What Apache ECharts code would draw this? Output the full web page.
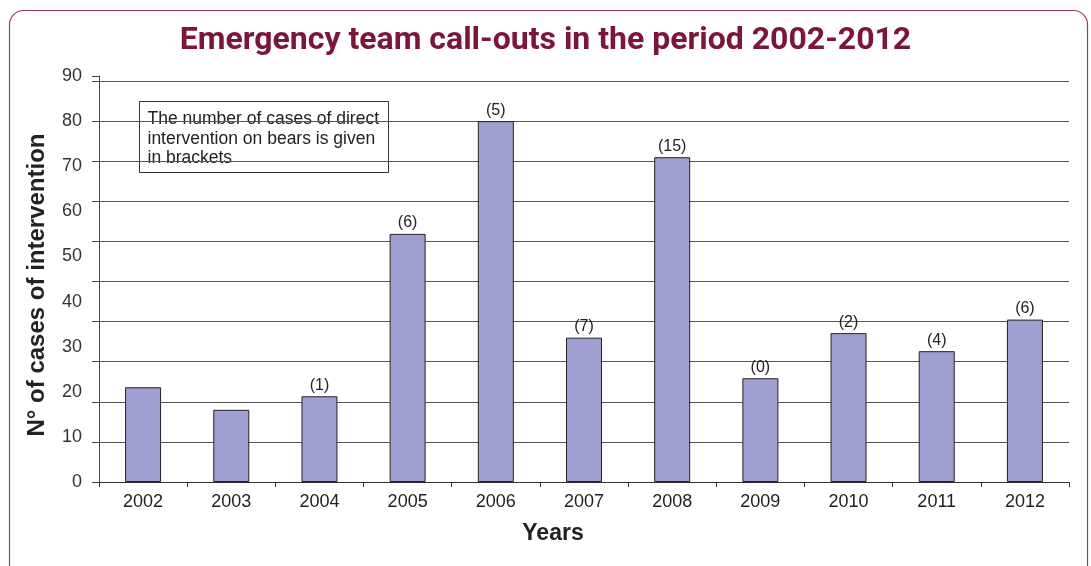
<!DOCTYPE html>
<html>
<head>
<meta charset="utf-8">
<script src="https://cdn.jsdelivr.net/npm/echarts@6/dist/echarts.min.js"></script>
<style>
  html, body { margin: 0; padding: 0; background: #fff; }
  #chart { width: 1091px; height: 566px; }
</style>
</head>
<body>
<div id="chart"></div>
<script>
// years on the x axis
var years = ["2002", "2003", "2004", "2005", "2006", "2007", "2008", "2009", "2010", "2011", "2012"];
// n° of cases of intervention
var callOuts = [21, 16, 19, 55, 80, 32, 72, 23, 33, 29, 36];
// direct interventions on bears (shown in brackets)
var bearCases = ["", "", "(1)", "(6)", "(5)", "(7)", "(15)", "(0)", "(2)", "(4)", "(6)"];

var chart = echarts.init(document.getElementById("chart"));

var option = {
  backgroundColor: "#fff",
  animation: false,
  title: {
    text: "Emergency team call-outs in the period 2002-2012",
    left: "center",
    top: 20,
    textStyle: {
      fontFamily: "Roboto",
      fontWeight: "bold",
      fontSize: 32,
      color: "#7d1538"
    }
  },
  grid: {
    left: 99,
    right: 22,
    top: 76,
    bottom: 84
  },
  xAxis: {
    type: "category",
    data: years,
    name: "Years",
    nameLocation: "middle",
    nameGap: 40,
    nameTextStyle: {
      fontFamily: "Liberation Sans",
      fontWeight: "bold",
      fontSize: 23,
      color: "#222",
      padding: [0, 62, 0, 0]
    },
    axisLine: { lineStyle: { color: "#333", width: 1 } },
    axisTick: { show: true, length: 5, lineStyle: { color: "#333" } },
    axisLabel: {
      margin: 11,
      fontFamily: "Liberation Sans",
      fontSize: 18,
      color: "#222"
    }
  },
  yAxis: [
    {
      // value axis with the printed labels
      type: "value",
      min: 0,
      max: 90,
      interval: 10,
      name: "N° of cases of intervention",
      nameLocation: "middle",
      nameGap: 50,
      nameTextStyle: {
        fontFamily: "Liberation Sans",
        fontWeight: "bold",
        fontSize: 24,
        color: "#222",
        padding: [0, 12, 0, 0]
      },
      axisLine: { show: false },
      axisTick: { show: false },
      splitLine: { show: false },
      axisLabel: {
        margin: 17,
        fontFamily: "Liberation Sans",
        fontSize: 18,
        color: "#333"
      }
    },
    {
      // gridlines (drawn at a slightly different spacing in the original)
      type: "value",
      min: 0,
      max: 10.125,
      interval: 1,
      position: "left",
      axisLine: { show: true, lineStyle: { color: "#444", width: 1 } },
      axisTick: { show: true, length: 7, lineStyle: { color: "#444" } },
      axisLabel: { show: false },
      splitLine: { show: true, showMaxLine: false, lineStyle: { color: "#555", width: 1 } }
    }
  ],
  series: [
    {
      type: "bar",
      yAxisIndex: 0,
      data: callOuts,
      barWidth: 36,
      itemStyle: {
        color: "#9fa0d1",
        borderColor: "#222",
        borderWidth: 1
      },
      label: {
        show: true,
        position: "top",
        distance: 3,
        fontFamily: "Liberation Sans",
        fontSize: 16,
        color: "#222",
        formatter: function (p) { return bearCases[p.dataIndex]; }
      }
    }
  ],
  graphic: [
    {
      type: "rect",
      left: 7,
      top: 8,
      shape: { width: 1078, height: 580, r: 14 },
      style: { fill: "none", stroke: "#a33a55", lineWidth: 1.2 },
      silent: true
    },
    {
      type: "group",
      left: 139,
      top: 101,
      children: [
        {
          type: "rect",
          shape: { x: 0, y: 0, width: 249, height: 71 },
          style: { fill: "#fff", stroke: "#333", lineWidth: 1 }
        },
        {
          type: "text",
          x: 8,
          y: 8,
          style: {
            text: "The number of cases of direct\nintervention on bears is given\nin brackets",
            font: "17.5px 'Liberation Sans'",
            lineHeight: 19.5,
            fill: "#222"
          }
        }
      ]
    }
  ]
};

chart.setOption(option);
</script>
</body>
</html>
